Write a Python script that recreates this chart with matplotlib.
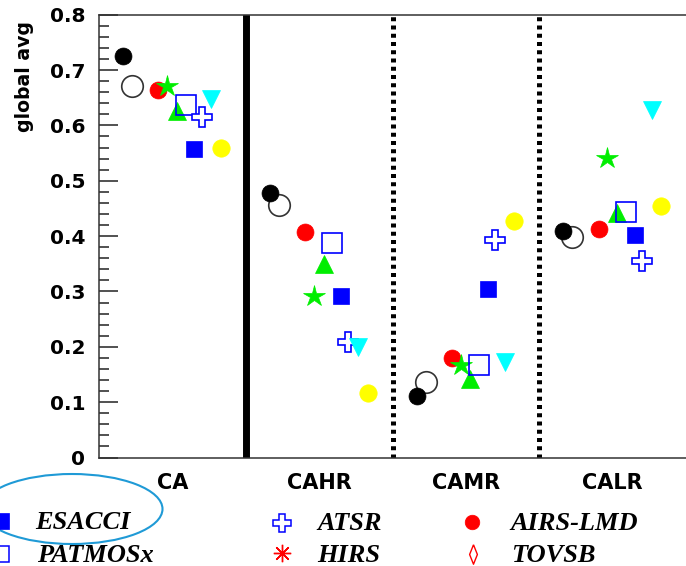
import matplotlib
matplotlib.use("Agg")
import matplotlib.pyplot as plt
from matplotlib.patches import Ellipse
from matplotlib.ticker import MultipleLocator, FuncFormatter

# Cloud-amount categories
categories = ["CA", "CAHR", "CAMR", "CALR"]

# Global averages per dataset, one value per category
black_dot = [0.725, 0.477, 0.112, 0.409]
open_circle = [0.671, 0.456, 0.137, 0.399]
airs_lmd = [0.664, 0.408, 0.179, 0.413]
green_star = [0.671, 0.291, 0.167, 0.541]
green_triangle = [0.626, 0.350, 0.142, 0.442]
patmosx = [0.637, 0.387, 0.167, 0.444]
esacci = [0.557, 0.291, 0.304, 0.402]
atsr = [0.616, 0.208, 0.393, 0.355]
cyan_triangle = [0.647, 0.199, 0.173, 0.627]
yellow_dot = [0.559, 0.116, 0.427, 0.454]

legend_names = ["ESACCI", "PATMOSx", "ATSR", "HIRS", "AIRS-LMD", "TOVSB"]

W, H = 686, 566
fig = plt.figure(figsize=(W / 100, H / 100), dpi=100)
ax = fig.add_axes([99 / W, 108.5 / H, (W - 99) / W, (457.5 - 14.7) / H])

# (values, offset within category, marker style)
series = [
    (open_circle, 0.225, dict(marker="o", ms=15.5, mfc="white", mec="#333333", mew=1.2)),
    (black_dot, 0.165, dict(marker="o", ms=12.2, mfc="black", mec="black", mew=0.5)),
    (airs_lmd, 0.405, dict(marker="o", ms=12.2, mfc="#ff0000", mec="#ff0000", mew=0.5)),
    (green_star, 0.465, dict(marker="*", ms=16, mfc="#00ee00", mec="#00ee00", mew=0.5)),
    (green_triangle, 0.53, dict(marker="^", ms=13.5, mfc="#00ee00", mec="#00ee00", mew=0.5)),
    (patmosx, 0.59, dict(marker="s", ms=14.0, mfc="none", mec="#0000ff", mew=1.2)),
    (esacci, 0.65, dict(marker="s", ms=12.0, mfc="#0000ff", mec="#0000ff", mew=0.5)),
    (atsr, 0.70, dict(marker="P", ms=15.0, mfc="white", mec="#0000ff", mew=1.2)),
    (cyan_triangle, 0.765, dict(marker="v", ms=13.5, mfc="#00ffff", mec="#00ffff", mew=0.5)),
    (yellow_dot, 0.83, dict(marker="o", ms=12.5, mfc="#ffff00", mec="#ffff00", mew=0.5)),
]

for z, (vals, off, style) in enumerate(series):
    xs = [i + off for i in range(len(categories))]
    ax.plot(xs, vals, linestyle="none", zorder=5 + z, clip_on=False, **style)

# Group separators
ax.axvline(1, color="black", lw=5, zorder=2)
for xv in (2, 3):
    ax.axvline(xv, color="black", lw=3.6, linestyle=(0, (0.8, 0.85)), zorder=2)

ax.set_xlim(0, 4)
ax.set_ylim(0, 0.8)

ax.yaxis.set_major_locator(MultipleLocator(0.1))
ax.yaxis.set_minor_locator(MultipleLocator(0.02))
ax.yaxis.set_major_formatter(FuncFormatter(lambda v, p: "0" if abs(v) < 1e-9 else f"{v:.1f}"))
ax.tick_params(axis="y", which="major", direction="in", length=13.7, width=1.1,
               color="#222222", pad=10, labelsize=14.5)
ax.tick_params(axis="y", which="minor", direction="in", length=7.2, width=1.1, color="#222222")
for lab in ax.get_yticklabels():
    lab.set_fontweight("bold")
    lab.set_family("DejaVu Sans")

ax.set_xticks([i + 0.5 for i in range(len(categories))])
ax.set_xticklabels(categories, fontsize=15, fontweight="bold", family="DejaVu Sans")
ax.tick_params(axis="x", length=0, pad=11.4)

for side in ("left", "top", "bottom"):
    ax.spines[side].set_linewidth(1.1)
    ax.spines[side].set_color("#333333")
ax.spines["right"].set_visible(False)

fig.text(25 / W, 1 - 76 / H, "global avg", rotation=90, ha="center", va="center",
         fontsize=13.6, fontweight="bold", family="DejaVu Sans")

# Legend drawn in pixel coordinates on a transparent overlay
ov = fig.add_axes([0, 0, 1, 1])
ov.set_xlim(0, W)
ov.set_ylim(H, 0)
ov.axis("off")
ov.patch.set_visible(False)

narrow_diamond = [(0, 1), (0.4, 0), (0, -1), (-0.4, 0), (0, 1)]
leg_markers = [
    dict(marker="s", ms=12.0, mfc="#0000ff", mec="#0000ff", mew=0.5),
    dict(marker="s", ms=11.5, mfc="none", mec="#0000ff", mew=1.1),
    dict(marker="P", ms=13.5, mfc="white", mec="#0000ff", mew=1.1),
    dict(marker=(8, 2, 0), ms=12.5, mfc="#ff0000", mec="#ff0000", mew=1.0),
    dict(marker="o", ms=10.5, mfc="#ff0000", mec="#ff0000", mew=0.5),
    dict(marker=narrow_diamond, ms=14.0, mfc="white", mec="#ff0000", mew=1.0),
]
leg_marker_xy = [(1, 521), (1, 554), (282, 523), (282, 553), (472, 522), (473, 554)]
leg_text_xy = [(35, 529), (37, 562), (317, 530), (317, 562), (510, 530), (511, 562)]

for name, mk, (mx, my), (tx, ty) in zip(legend_names, leg_markers, leg_marker_xy, leg_text_xy):
    ov.plot([mx], [my], linestyle="none", clip_on=False, **mk)
    ov.text(tx, ty, name, ha="left", va="baseline", fontsize=19, fontweight="bold",
            fontstyle="italic", family="Liberation Serif")

ov.add_patch(Ellipse((72, 509), 181, 70, fill=False, edgecolor="#1f9ad6", lw=1.5))

fig.savefig("out.png", dpi=100)
